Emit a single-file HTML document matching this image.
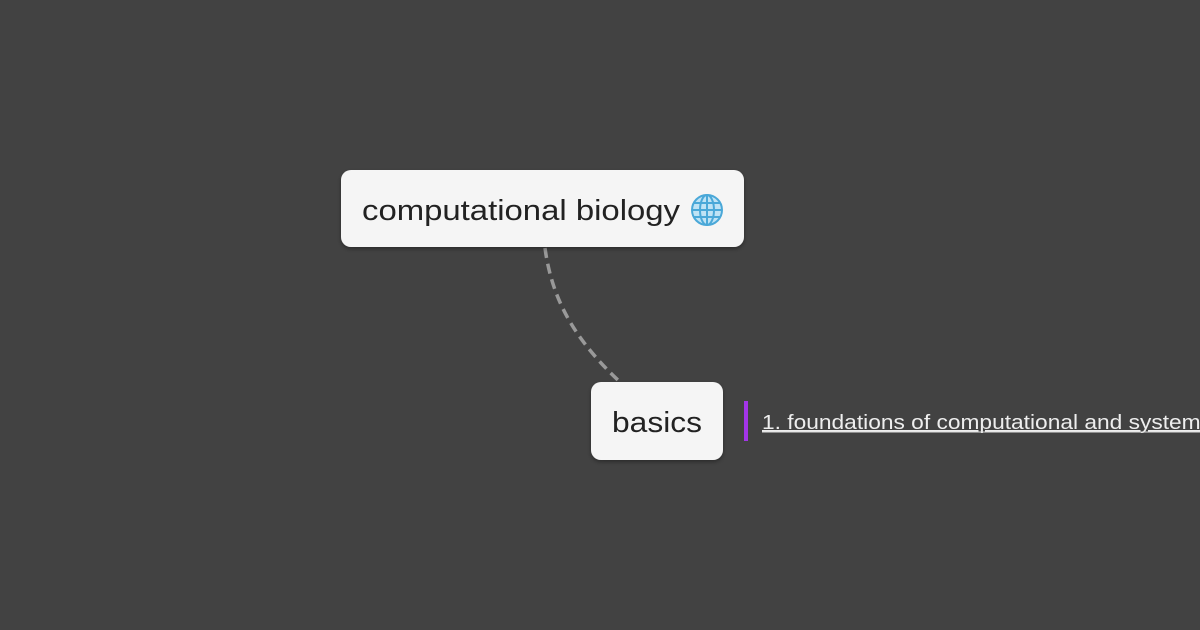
<!DOCTYPE html>
<html><head><style>
html,body{margin:0;padding:0;background:#424242;}
svg{display:block;}
</style></head><body>
<svg width="1200" height="630" viewBox="0 0 1200 630" xmlns="http://www.w3.org/2000/svg">
<defs>
<filter id="sh" x="-10%" y="-20%" width="120%" height="150%">
<feDropShadow dx="0" dy="2" stdDeviation="2" flood-color="#000" flood-opacity="0.35"/>
</filter>
</defs>
<rect width="1200" height="630" fill="#424242"/>
<path d="M545 248 C 552 300, 575 340, 620 382" fill="none" stroke="#999" stroke-width="3.5" stroke-dasharray="10,6"/>
<rect x="341" y="170" width="403" height="77" rx="10" fill="#f5f5f5" filter="url(#sh)"/>
<text x="362" y="220" font-family="Liberation Sans, sans-serif" font-size="29" fill="#222" textLength="318" lengthAdjust="spacingAndGlyphs">computational biology</text>
<g transform="translate(707,210)" fill="none" stroke="#4aa8d8" stroke-width="2">
<circle r="15" fill="#bfe3f5"/>
<ellipse rx="7" ry="15"/>
<line x1="-15" y1="0" x2="15" y2="0"/>
<line x1="0" y1="-15" x2="0" y2="15"/>
<line x1="-13" y1="-7" x2="13" y2="-7"/>
<line x1="-13" y1="7" x2="13" y2="7"/>
</g>
<rect x="591" y="382" width="132" height="78" rx="10" fill="#f5f5f5" filter="url(#sh)"/>
<text x="612" y="432" font-family="Liberation Sans, sans-serif" font-size="29" fill="#222" textLength="90" lengthAdjust="spacingAndGlyphs">basics</text>
<rect x="744" y="401" width="4" height="40" fill="#a335e8"/>
<text x="762" y="429" font-family="Liberation Sans, sans-serif" font-size="20" fill="#eeeeee" textLength="450" lengthAdjust="spacingAndGlyphs" text-decoration="underline">1. foundations of computational and systems</text>
<line x1="762" y1="432" x2="1200" y2="432" stroke="#ddd" stroke-width="1"/>
</svg>
</body></html>
